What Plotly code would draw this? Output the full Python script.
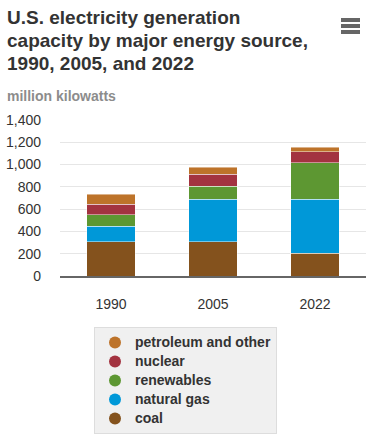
import plotly.graph_objects as go

years = ["1990", "2005", "2022"]
coal = [307, 307, 204]
natural_gas = [138, 383, 486]
renewables = [104, 115, 328]
nuclear = [96, 106, 97]
petroleum_other = [87, 65, 41]

series = [
    ("coal", coal, "#84521d"),
    ("natural gas", natural_gas, "#0098d8"),
    ("renewables", renewables, "#5d9732"),
    ("nuclear", nuclear, "#a33340"),
    ("petroleum and other", petroleum_other, "#bd732a"),
]

title_lines = ["U.S. electricity generation", "capacity by major energy source,", "1990, 2005, and 2022"]
unit_label = "million kilowatts"

fig = go.Figure()
for name, vals, col in series:
    fig.add_trace(go.Bar(x=years, y=vals, name=name,
                         marker=dict(color=col, line=dict(color="rgba(255,255,255,0.45)", width=1)),
                         showlegend=False))
# legend entries with circle markers (top to bottom)
for name, vals, col in reversed(series):
    fig.add_trace(go.Scatter(x=[None], y=[None], mode="markers",
                             name="<span style='font-size:14px'><b>" + name + "</b></span>",
                             marker=dict(color=col, size=14, symbol="circle")))

W, H = 366, 434
L, R, T, B = 60, 0, 120, 158
pw, ph = W - L - R, H - T - B

def px(x):
    return (x - L) / pw

def py(y):
    return (H - B - y) / ph

shapes = []
for yy in (20, 26, 32):
    shapes.append(dict(type="line", xref="paper", yref="paper", x0=px(341), x1=px(360), y0=py(yy), y1=py(yy),
                       line=dict(color="#666666", width=4)))

annotations = []
for i, line in enumerate(title_lines):
    annotations.append(dict(text="<b>" + line + "</b>", xref="paper", yref="paper",
                            x=px(5), y=py(5.5 + 22.8 * i), xanchor="left", yanchor="top", align="left",
                            showarrow=False, font=dict(size=19, color="#333333")))
annotations.append(dict(text="<b>" + unit_label + "</b>", xref="paper", yref="paper", x=px(5), y=py(96),
                        xanchor="left", yanchor="middle", showarrow=False,
                        font=dict(size=14, color="#8c8c8c")))

fig.update_layout(
    width=W, height=H,
    margin=dict(l=L, r=R, t=T, b=B, autoexpand=False),
    barmode="stack",
    bargap=0.52,
    plot_bgcolor="white", paper_bgcolor="white",
    font=dict(family="Liberation Sans, Arial, sans-serif", color="#333333", size=14),
    xaxis=dict(showgrid=False, showline=True, linecolor="#666666", linewidth=2, automargin=False,
               ticks="", tickfont=dict(size=14, color="#333333"), ticklabelstandoff=14),
    yaxis=dict(range=[0, 1400], dtick=200, tickformat=",", gridcolor="#e6e6e6", gridwidth=1, automargin=False,
               zeroline=False, ticks="", tickfont=dict(size=14, color="#333333"), ticklabelstandoff=18),
    legend=dict(x=px(94), y=py(327), xanchor="left", yanchor="top",
                bgcolor="#f0f0f0", bordercolor="#dddddd", borderwidth=1,
                font=dict(size=12, color="#333333", family="Liberation Sans, Arial, sans-serif"),
                tracegroupgap=0, itemsizing="constant", traceorder="normal"),
    annotations=annotations,
    shapes=shapes,
    showlegend=True,
)

fig.write_html("out.html", config={"displayModeBar": False},
               post_script="document.body.style.margin='0';")
